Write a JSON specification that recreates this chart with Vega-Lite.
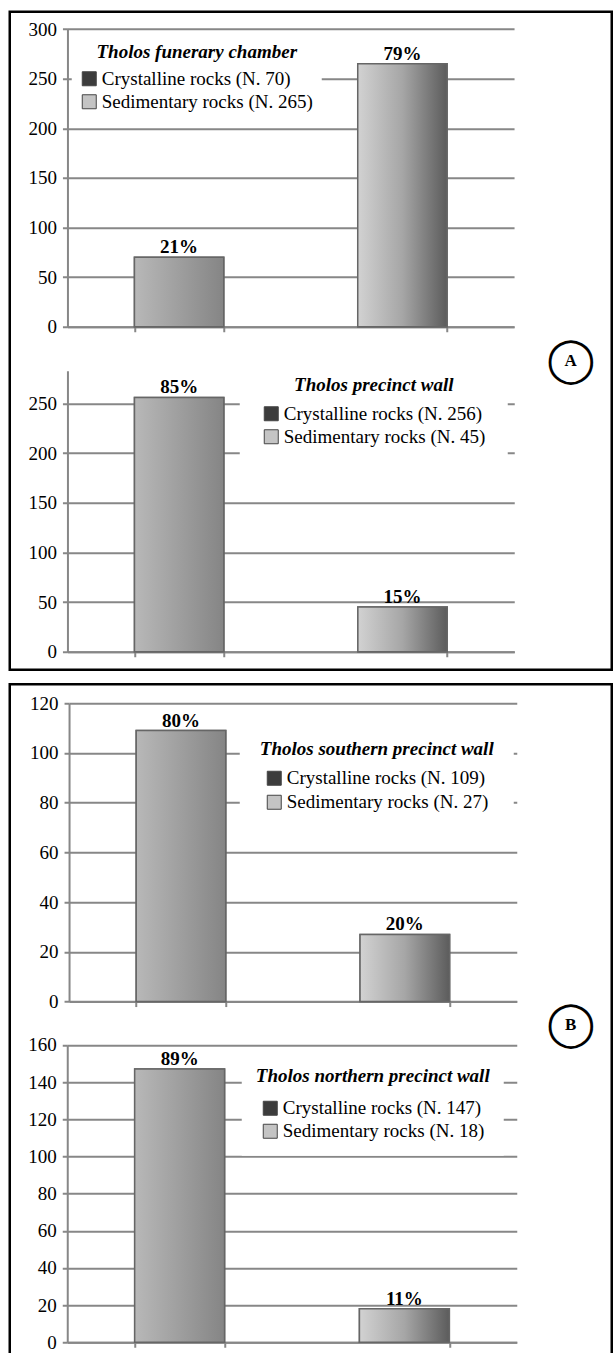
{
  "$schema": "https://vega.github.io/schema/vega-lite/v6.json",
  "padding": {"left": 7.75, "top": 9.75, "right": 0, "bottom": 0},
  "spacing": 10.5,
  "background": "white",
  "config": {
    "font": "Liberation Serif",
    "view": {"stroke": "black", "strokeWidth": 2.5},
    "axis": {
      "labelFont": "Liberation Serif", "labelFontSize": 19, "labelColor": "black", "labelPadding": 6,
      "tickSize": 5, "tickColor": "#878787", "tickWidth": 2,
      "domainColor": "#878787", "domainWidth": 2,
      "gridColor": "#878787", "gridWidth": 2, "title": null
    },
    "legend": {
      "orient": "none", "fillColor": "white", "padding": 8,
      "titleFont": "Liberation Serif", "titleFontSize": 19, "titleFontStyle": "italic", "titleFontWeight": "bold",
      "titleColor": "black", "titleAnchor": "middle", "titleLimit": 500,
      "labelFont": "Liberation Serif", "labelFontSize": 19, "labelColor": "black", "labelOffset": 3, "labelLimit": 500,
      "symbolType": "square", "symbolSize": 196, "symbolStrokeColor": "#444", "symbolStrokeWidth": 1
    },
    "text": {"font": "Liberation Serif"}
  },
  "datasets": {
    "p1": [
      {"rock": "Crystalline rocks", "legend": "Crystalline rocks (N. 70)", "count": 70, "pct": "21%"},
      {"rock": "Sedimentary rocks", "legend": "Sedimentary rocks (N. 265)", "count": 265, "pct": "79%"}
    ],
    "p2": [
      {"rock": "Crystalline rocks", "legend": "Crystalline rocks (N. 256)", "count": 256, "pct": "85%"},
      {"rock": "Sedimentary rocks", "legend": "Sedimentary rocks (N. 45)", "count": 45, "pct": "15%"}
    ],
    "p3": [
      {"rock": "Crystalline rocks", "legend": "Crystalline rocks (N. 109)", "count": 109, "pct": "80%"},
      {"rock": "Sedimentary rocks", "legend": "Sedimentary rocks (N. 27)", "count": 27, "pct": "20%"}
    ],
    "p4": [
      {"rock": "Crystalline rocks", "legend": "Crystalline rocks (N. 147)", "count": 147, "pct": "89%"},
      {"rock": "Sedimentary rocks", "legend": "Sedimentary rocks (N. 18)", "count": 18, "pct": "11%"}
    ]
  },
  "vconcat": [
    {
      "width": 602, "height": 658,
      "title": {"text": "◯", "subtitle": "A", "anchor": "start", "align": "center", "frame": "group", "dx": 561, "offset": -371,
        "font": "DejaVu Sans", "fontSize": 44, "fontWeight": "normal", "color": "black",
        "subtitleFont": "Liberation Serif", "subtitleFontSize": 17, "subtitleFontWeight": "bold", "subtitleColor": "black", "subtitlePadding": -30},
      "resolve": {"scale": {"x": "independent", "y": "independent", "color": "independent"}, "axis": {"x": "independent", "y": "independent"}, "legend": {"color": "independent"}},
      "layer": [
        {
          "data": {"name": "p1"},
          "layer": [
            {"mark": {"type": "bar", "stroke": "#666", "strokeWidth": 1.5},
             "encoding": {
               "x": {"field": "rock", "type": "nominal", "scale": {"range": [57.7, 504.3], "paddingInner": 0.6, "paddingOuter": 0.3},
                     "axis": {"orient": "bottom", "offset": -343, "labels": false, "tickBand": "extent", "grid": false}},
               "y": {"field": "count", "type": "quantitative", "scale": {"domain": [0, 300], "range": [315, 17.3], "nice": false},
                     "axis": {"orient": "left", "offset": -57.7, "values": [0, 50, 100, 150, 200, 250, 300], "grid": true, "labelFont": "Liberation Serif"}},
               "color": {"field": "legend", "type": "nominal", "scale": {"range": ["#3c3c3c", "#c4c4c4"]},
                         "legend": {"title": "Tholos funerary chamber", "legendX": 62, "legendY": 23.5, "titlePadding": 7, "rowPadding": 3, "labelFont": "Liberation Serif"}}
             }},
            {"transform": [{"filter": "datum.rock === 'Crystalline rocks'"}],
             "mark": {"type": "bar", "stroke": "#666", "strokeWidth": 1.5,
                      "color": {"gradient": "linear", "x1": 0, "y1": 0, "x2": 1, "y2": 0, "stops": [{"offset": 0, "color": "#b8b8b8"}, {"offset": 1, "color": "#858585"}]}},
             "encoding": {"x": {"field": "rock", "type": "nominal"}, "y": {"field": "count", "type": "quantitative"}}},
            {"transform": [{"filter": "datum.rock === 'Sedimentary rocks'"}],
             "mark": {"type": "bar", "stroke": "#666", "strokeWidth": 1.5,
                      "color": {"gradient": "linear", "x1": 0, "y1": 0, "x2": 1, "y2": 0, "stops": [{"offset": 0, "color": "#d2d2d2"}, {"offset": 0.5, "color": "#a6a6a6"}, {"offset": 1, "color": "#5c5c5c"}]}},
             "encoding": {"x": {"field": "rock", "type": "nominal"}, "y": {"field": "count", "type": "quantitative"}}},
            {"mark": {"type": "text", "fontSize": 19, "fontWeight": "bold", "baseline": "alphabetic", "dy": -4, "color": "black"},
             "encoding": {"x": {"field": "rock", "type": "nominal"}, "y": {"field": "count", "type": "quantitative"}, "text": {"field": "pct"}}}
          ]
        },
        {
          "data": {"name": "p2"},
          "layer": [
            {"mark": {"type": "bar", "stroke": "#666", "strokeWidth": 1.5},
             "encoding": {
               "x": {"field": "rock", "type": "nominal", "scale": {"range": [57.7, 504.5], "paddingInner": 0.6, "paddingOuter": 0.3},
                     "axis": {"orient": "bottom", "offset": -18, "labels": false, "tickBand": "extent", "grid": false}},
               "y": {"field": "count", "type": "quantitative", "scale": {"domain": [0, 283], "range": [640, 358.9], "nice": false},
                     "axis": {"orient": "left", "offset": -57.7, "values": [0, 50, 100, 150, 200, 250], "grid": true, "labelFont": "Liberation Serif"}},
               "color": {"field": "legend", "type": "nominal", "scale": {"range": ["#3c3c3c", "#c4c4c4"]},
                         "legend": {"title": "Tholos precinct wall", "legendX": 230, "legendY": 342.5, "padding": 22, "titlePadding": 9, "rowPadding": 3, "labelFont": "Liberation Serif"}}
             }},
            {"transform": [{"filter": "datum.rock === 'Crystalline rocks'"}],
             "mark": {"type": "bar", "stroke": "#666", "strokeWidth": 1.5,
                      "color": {"gradient": "linear", "x1": 0, "y1": 0, "x2": 1, "y2": 0, "stops": [{"offset": 0, "color": "#b8b8b8"}, {"offset": 1, "color": "#858585"}]}},
             "encoding": {"x": {"field": "rock", "type": "nominal"}, "y": {"field": "count", "type": "quantitative"}}},
            {"transform": [{"filter": "datum.rock === 'Sedimentary rocks'"}],
             "mark": {"type": "bar", "stroke": "#666", "strokeWidth": 1.5,
                      "color": {"gradient": "linear", "x1": 0, "y1": 0, "x2": 1, "y2": 0, "stops": [{"offset": 0, "color": "#d2d2d2"}, {"offset": 0.5, "color": "#a6a6a6"}, {"offset": 1, "color": "#5c5c5c"}]}},
             "encoding": {"x": {"field": "rock", "type": "nominal"}, "y": {"field": "count", "type": "quantitative"}}},
            {"mark": {"type": "text", "fontSize": 19, "fontWeight": "bold", "baseline": "alphabetic", "dy": -4, "color": "black"},
             "encoding": {"x": {"field": "rock", "type": "nominal"}, "y": {"field": "count", "type": "quantitative"}, "text": {"field": "pct"}}}
          ]
        }
      ]
    },
    {
      "width": 602, "height": 690,
      "title": {"text": "◯", "subtitle": "B", "anchor": "start", "align": "center", "frame": "group", "dx": 561, "offset": -363,
        "font": "DejaVu Sans", "fontSize": 44, "fontWeight": "normal", "color": "black",
        "subtitleFont": "Liberation Serif", "subtitleFontSize": 17, "subtitleFontWeight": "bold", "subtitleColor": "black", "subtitlePadding": -30},
      "resolve": {"scale": {"x": "independent", "y": "independent", "color": "independent"}, "axis": {"x": "independent", "y": "independent"}, "legend": {"color": "independent"}},
      "layer": [
        {
          "data": {"name": "p3"},
          "layer": [
            {"mark": {"type": "bar", "stroke": "#666", "strokeWidth": 1.5},
             "encoding": {
               "x": {"field": "rock", "type": "nominal", "scale": {"range": [59.3, 507], "paddingInner": 0.6, "paddingOuter": 0.3},
                     "axis": {"orient": "bottom", "offset": -372.7, "labels": false, "tickBand": "extent", "grid": false}},
               "y": {"field": "count", "type": "quantitative", "scale": {"domain": [0, 120], "range": [317.3, 19], "nice": false},
                     "axis": {"orient": "left", "offset": -59.3, "values": [0, 20, 40, 60, 80, 100, 120], "grid": true, "labelFont": "Liberation Serif"}},
               "color": {"field": "legend", "type": "nominal", "scale": {"range": ["#3c3c3c", "#c4c4c4"]},
                         "legend": {"title": "Tholos southern precinct wall", "legendX": 230, "legendY": 35.5, "padding": 20, "titlePadding": 10, "rowPadding": 4, "labelFont": "Liberation Serif"}}
             }},
            {"transform": [{"filter": "datum.rock === 'Crystalline rocks'"}],
             "mark": {"type": "bar", "stroke": "#666", "strokeWidth": 1.5,
                      "color": {"gradient": "linear", "x1": 0, "y1": 0, "x2": 1, "y2": 0, "stops": [{"offset": 0, "color": "#b8b8b8"}, {"offset": 1, "color": "#858585"}]}},
             "encoding": {"x": {"field": "rock", "type": "nominal"}, "y": {"field": "count", "type": "quantitative"}}},
            {"transform": [{"filter": "datum.rock === 'Sedimentary rocks'"}],
             "mark": {"type": "bar", "stroke": "#666", "strokeWidth": 1.5,
                      "color": {"gradient": "linear", "x1": 0, "y1": 0, "x2": 1, "y2": 0, "stops": [{"offset": 0, "color": "#d2d2d2"}, {"offset": 0.5, "color": "#a6a6a6"}, {"offset": 1, "color": "#5c5c5c"}]}},
             "encoding": {"x": {"field": "rock", "type": "nominal"}, "y": {"field": "count", "type": "quantitative"}}},
            {"mark": {"type": "text", "fontSize": 19, "fontWeight": "bold", "baseline": "alphabetic", "dy": -4, "color": "black"},
             "encoding": {"x": {"field": "rock", "type": "nominal"}, "y": {"field": "count", "type": "quantitative"}, "text": {"field": "pct"}}}
          ]
        },
        {
          "data": {"name": "p4"},
          "layer": [
            {"mark": {"type": "bar", "stroke": "#666", "strokeWidth": 1.5},
             "encoding": {
               "x": {"field": "rock", "type": "nominal", "scale": {"range": [57.5, 507], "paddingInner": 0.6, "paddingOuter": 0.3},
                     "axis": {"orient": "bottom", "offset": -32, "labels": false, "tickBand": "extent", "grid": false}},
               "y": {"field": "count", "type": "quantitative", "scale": {"domain": [0, 160], "range": [658, 360.7], "nice": false},
                     "axis": {"orient": "left", "offset": -57.5, "values": [0, 20, 40, 60, 80, 100, 120, 140, 160], "grid": true, "labelFont": "Liberation Serif"}},
               "color": {"field": "legend", "type": "nominal", "scale": {"range": ["#3c3c3c", "#c4c4c4"]},
                         "legend": {"title": "Tholos northern precinct wall", "legendX": 232, "legendY": 368.5, "padding": 14, "titlePadding": 13, "rowPadding": 3, "labelFont": "Liberation Serif"}}
             }},
            {"transform": [{"filter": "datum.rock === 'Crystalline rocks'"}],
             "mark": {"type": "bar", "stroke": "#666", "strokeWidth": 1.5,
                      "color": {"gradient": "linear", "x1": 0, "y1": 0, "x2": 1, "y2": 0, "stops": [{"offset": 0, "color": "#b8b8b8"}, {"offset": 1, "color": "#858585"}]}},
             "encoding": {"x": {"field": "rock", "type": "nominal"}, "y": {"field": "count", "type": "quantitative"}}},
            {"transform": [{"filter": "datum.rock === 'Sedimentary rocks'"}],
             "mark": {"type": "bar", "stroke": "#666", "strokeWidth": 1.5,
                      "color": {"gradient": "linear", "x1": 0, "y1": 0, "x2": 1, "y2": 0, "stops": [{"offset": 0, "color": "#d2d2d2"}, {"offset": 0.5, "color": "#a6a6a6"}, {"offset": 1, "color": "#5c5c5c"}]}},
             "encoding": {"x": {"field": "rock", "type": "nominal"}, "y": {"field": "count", "type": "quantitative"}}},
            {"mark": {"type": "text", "fontSize": 19, "fontWeight": "bold", "baseline": "alphabetic", "dy": -4, "color": "black"},
             "encoding": {"x": {"field": "rock", "type": "nominal"}, "y": {"field": "count", "type": "quantitative"}, "text": {"field": "pct"}}}
          ]
        }
      ]
    }
  ]
}
